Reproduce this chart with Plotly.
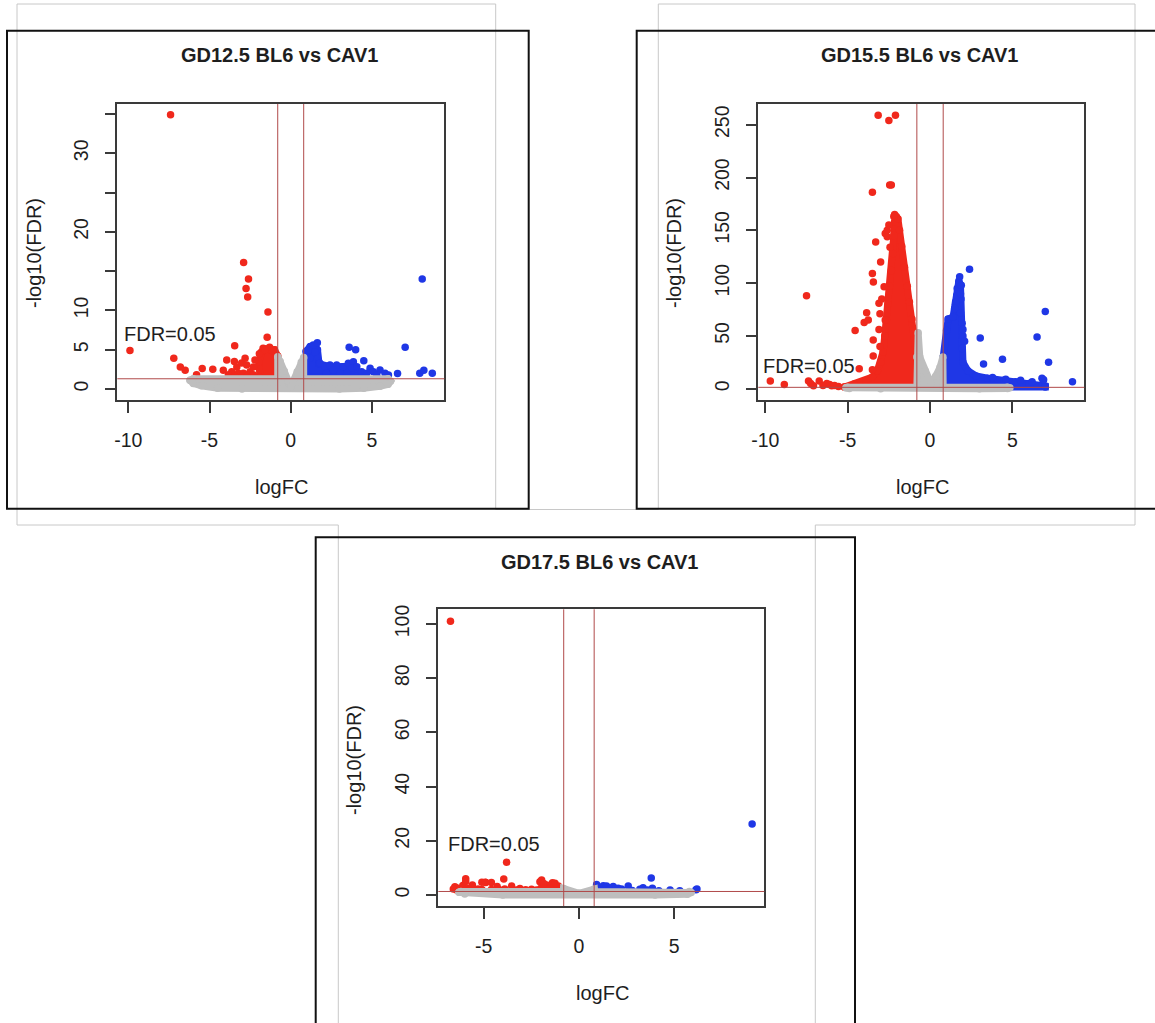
import numpy as np
import plotly.graph_objects as go

W, H = 1155, 1023
RED = "#f0281c"
BLUE = "#1f37e6"
GRAY = "#bebebe"
LINE_RED = "#b04a4a"
AX = "#3a3a3a"
TXT = "#1e1e1e"
FONT = "Liberation Sans, Arial, Helvetica, sans-serif"

TITLES = ["GD12.5 BL6 vs CAV1", "GD15.5 BL6 vs CAV1", "GD17.5 BL6 vs CAV1"]
X_LABEL = "logFC"
Y_LABEL = "-log10(FDR)"
FDR_TEXT = "FDR=0.05"
FC_CUT = 0.8
FDR_CUT = 0.05
FDR_Y = -np.log10(FDR_CUT)

# ---------------- Panel 1 : GD12.5 ----------------
p1_xticks = [-10, -5, 0, 5]
p1_yticks = [0, 5, 10, 15, 20, 25, 30, 35]
p1_yticktext = ["0", "5", "10", "", "20", "", "30", ""]
p1_red_x = [-7.4, -9.9, -2.9, -2.6, -2.75, -2.65, -1.4, -1.45, -3.45, -7.2, -6.8, -6.5,
            -5.8, -5.45, -4.8, -3.94, -3.47, -3.32, -3.02, -2.81, -2.71, -2.5, -2.3, -2.2,
            -3.63, -3.22, -2.91, -2.6, -2.3, -4.15, -3.84, -3.43, -2.71, -1.93, -1.7, -1.3,
            -1.1, -1.6]
p1_red_y = [34.9, 4.9, 16.1, 14.0, 12.8, 11.7, 9.8, 6.6, 5.5, 3.9, 2.8, 2.4,
            1.8, 2.6, 2.5, 3.7, 3.5, 2.8, 3.3, 3.9, 3.05, 2.2, 2.8, 3.7,
            2.2, 2.0, 2.0, 1.8, 1.8, 2.4, 1.8, 1.6, 1.6, 4.5, 5.2, 5.3,
            4.9, 5.0]
p1_red_core_x = [-1.9, -1.95, -1.8, -1.55, -1.25, -1.0, -0.8, -0.8]
p1_red_core_y = [1.5, 3.4, 4.7, 5.1, 5.0, 5.0, 4.2, 1.5]
p1_blue_x = [8.1, 7.05, 7.95, 8.2, 8.72, 6.58, 4.5, 3.6, 4.0, 1.09, 1.39, 1.64, 1.5, 1.19,
             1.8, 2.1, 2.42, 2.83, 3.24, 3.55, 3.86, 3.76, 4.07, 4.37, 4.89, 5.09, 5.5,
             5.81, 6.02, 4.68, 5.3, 2.2, 3.04, 3.45, 2.63]
p1_blue_y = [14.0, 5.3, 2.0, 2.4, 2.0, 1.96, 3.6, 5.3, 5.0, 4.96, 5.6, 5.9, 4.75, 3.9,
             3.27, 2.84, 3.05, 3.05, 2.84, 3.27, 3.48, 2.63, 2.84, 2.21, 2.63, 2.21, 2.42,
             2.0, 1.78, 2.0, 1.78, 2.0, 2.0, 2.0, 2.42]
p1_blue_core_x = [0.95, 0.95, 1.2, 1.5, 1.65, 1.75, 2.5, 3.5, 4.0, 4.3]
p1_blue_core_y = [1.5, 4.8, 5.4, 5.5, 5.0, 3.2, 2.8, 2.9, 2.6, 1.5]
p1_gray_x = [-6.2, -6.0, -0.8, -0.8, -0.65, -0.4, -0.15, 0.0, 0.15, 0.4, 0.65, 0.8, 0.8,
             6.0, 6.15, 6.0, 5.5, 4.5, 3.0, -3.0, -4.5, -5.5, -6.0]
p1_gray_y = [1.1, 1.3, 1.3, 4.1, 3.5, 2.3, 1.0, 0.3, 1.0, 2.2, 3.4, 4.0, 1.3,
             1.3, 1.0, 0.6, 0.35, 0.1, 0.0, 0.0, 0.1, 0.4, 0.7]

# ---------------- Panel 2 : GD15.5 ----------------
p2_xticks = [-10, -5, 0, 5]
p2_yticks = [0, 50, 100, 150, 200, 250]
p2_yticktext = ["0", "50", "100", "150", "200", "250"]
p2_red_x = [-3.15, -2.5, -2.1, -2.45, -2.35, -3.5, -7.5, -3.3, -2.72, -2.6, -2.43, -3.0,
            -3.5, -3.44, -3.1, -3.85, -4.0, -3.75, -4.55, -3.1, -3.45, -3.45, -4.3, -3.5,
            -9.7, -8.85, -7.38, -7.08, -6.73, -6.27, -5.97, -5.56, -7.25, -6.5, -6.1,
            -5.8, -2.79, -2.93, -2.72, -3.04, -3.04, -2.6, -2.5, -2.2, -2.15]
p2_red_y = [259, 254, 259, 193, 193, 186, 88, 139, 147, 144, 134, 120,
            109, 101, 81, 72, 62.6, 65, 55, 56, 46, 31, 19, 18,
            7.3, 4.0, 7.3, 2.9, 7.3, 5.0, 2.9, 2.0, 5.0, 3.0, 4.0,
            3.0, 96.6, 85, 65, 71, 40, 150, 155, 163, 165]
p2_red_core_x = [-5.2, -4.6, -3.9, -3.5, -3.2, -3.0, -2.85, -2.75, -2.65, -2.55, -2.45,
                 -2.35, -2.25, -2.2, -2.15, -2.05, -1.95, -1.85, -1.72, -1.55, -1.38,
                 -1.25, -1.1, -0.95, -0.85, -0.8, -0.8]
p2_red_core_y = [1.5, 4.5, 7.5, 11, 17, 25, 35, 50, 65, 80, 97,
                 112, 128, 145, 158, 163, 161, 150, 135, 115, 97,
                 82, 66, 50, 35, 20, 1.5]
p2_blue_x = [2.4, 1.8, 1.75, 1.7, 1.62, 1.55, 1.5, 1.9, 1.85, 3.05, 3.25, 4.4, 6.5, 7.0,
             7.2, 8.65, 6.8, 2.0, 2.1, 5.5, 6.2, 6.9, 3.8, 4.6]
p2_blue_y = [113, 106, 100, 94, 88, 82, 76, 98, 90, 48, 23.5, 28, 49, 73,
             25, 6.6, 9.9, 56, 45, 8.0, 6.5, 8.5, 10.5, 9.0]
p2_blue_core_x = [0.8, 0.8, 1.0, 1.1, 1.4, 1.55, 1.65, 1.75, 1.85, 1.88, 1.85, 1.95, 2.0,
                  1.95, 2.0, 2.3, 2.8, 3.5, 4.5, 5.2, 6.0, 6.8, 7.0, 7.0]
p2_blue_core_y = [1.5, 30, 55, 66, 68, 80, 95, 102, 98, 85, 72, 62, 50,
                  38, 25, 17, 12, 10, 8, 6.5, 5, 4, 2.5, 1.5]
p2_gray_x = [-5.1, -5.0, -0.8, -0.8, -0.72, -0.62, -0.3, 0.05, 0.35, 0.6, 0.78, 0.8,
             4.7, 4.85, 4.7, 3.0, -3.0, -4.9]
p2_gray_y = [1.0, 1.3, 1.3, 30, 53, 30, 17, 5, 12, 20, 30, 1.3,
             1.3, 1.0, 0.2, 0.0, 0.0, 0.2]

# ---------------- Panel 3 : GD17.5 ----------------
p3_xticks = [-5, 0, 5]
p3_yticks = [0, 20, 40, 60, 80, 100]
p3_yticktext = ["0", "20", "40", "60", "80", "100"]
p3_red_x = [-6.75, -3.8, -3.95, -5.95, -5.1, -4.92, -6.52, -6.43, -6.34, -6.6, -5.6, -4.9,
            -4.6, -4.3, -3.54, -3.1, -2.49, -2.23, -2.05, -1.96, -1.7, -1.39, -1.26, -1.08,
            -5.1, -4.2, -2.8, -1.6, -1.3, -5.8, -6.1, -5.3, -3.9, -3.3, -2.0, -1.85, -1.5,
            -1.0, -0.9, -4.6, -5.95]
p3_red_y = [101, 12.1, 5.9, 6.0, 4.7, 4.7, 3.07, 1.85, 2.46, 2.2, 3.7, 4.6,
            4.6, 3.1, 3.3, 2.4, 2.1, 1.85, 4.9, 5.5, 3.7, 4.5, 4.3, 3.3,
            2.0, 2.0, 1.9, 3.1, 3.7, 2.5, 3.5, 2.2, 2.2, 1.8, 2.5, 4.2, 2.4,
            2.0, 1.6, 2.0, 5.0]
p3_blue_x = [9.1, 3.8, 0.93, 1.28, 1.45, 1.8, 2.06, 2.24, 2.59, 3.2, 3.37, 3.86, 4.79,
             6.15, 6.2, 1.0, 1.6, 2.8, 3.6, 4.2, 5.3]
p3_blue_y = [26.2, 6.3, 3.9, 3.4, 3.3, 3.1, 2.5, 2.2, 3.3, 2.1, 2.7, 2.5, 1.85,
             1.9, 2.2, 2.0, 2.0, 1.7, 1.8, 1.6, 1.6]
p3_gray_x = [-6.3, -6.2, -0.8, -0.8, 0.0, 0.8, 0.8, 5.8, 5.9, 5.7, 4.0, -4.0, -6.0]
p3_gray_y = [1.0, 1.3, 1.3, 2.4, 0.6, 2.2, 1.3, 1.3, 0.9, 0.3, 0.0, 0.0, 0.4]

# ---------------- layout geometry (pixels) ----------------
panels = [
    dict(box=(117.3, 104, 444.3, 400), xr=[-10.68, 9.46], yr=[-1.40, 36.27],
         xt=p1_xticks, yt=p1_yticks, ytt=p1_yticktext,
         red=(p1_red_x, p1_red_y), redc=(p1_red_core_x, p1_red_core_y),
         blue=(p1_blue_x, p1_blue_y), bluec=(p1_blue_core_x, p1_blue_core_y),
         gray=(p1_gray_x, p1_gray_y),
         title=(280, 55), xlab=(281, 487), ylab=(34, 253), fdr=(-10.37, 6.96)),
    dict(box=(758.3, 104, 1084.3, 400), xr=[-10.43, 9.37], yr=[-10.7, 269.6],
         xt=p2_xticks, yt=p2_yticks, ytt=p2_yticktext,
         red=(p2_red_x, p2_red_y), redc=(p2_red_core_x, p2_red_core_y),
         blue=(p2_blue_x, p2_blue_y), bluec=(p2_blue_core_x, p2_blue_core_y),
         gray=(p2_gray_x, p2_gray_y),
         title=(920, 55), xlab=(922, 487), ylab=(674, 253), fdr=(-10.29, 21.5)),
    dict(box=(438.3, 609.3, 764.3, 906), xr=[-7.39, 9.74], yr=[-4.06, 105.4],
         xt=p3_xticks, yt=p3_yticks, ytt=p3_yticktext,
         red=(p3_red_x, p3_red_y), redc=None,
         blue=(p3_blue_x, p3_blue_y), bluec=None,
         gray=(p3_gray_x, p3_gray_y),
         title=(600, 562), xlab=(602, 993), ylab=(354, 760), fdr=(-6.98, 18.8)),
]


def px(x):
    return x / W


def py(y):
    return 1 - y / H


fig = go.Figure()
annotations = []
shapes = []
MS = 7.5


def poly(xs, ys, color, xa, ya):
    return go.Scatter(x=list(xs) + [xs[0]], y=list(ys) + [ys[0]], mode="lines+markers",
                      fill="toself", fillcolor=color,
                      line=dict(color=color, width=7),
                      marker=dict(size=MS, color=color),
                      xaxis=xa, yaxis=ya, hoverinfo="skip", showlegend=False)


def pts(xs, ys, color, xa, ya):
    return go.Scatter(x=xs, y=ys, mode="markers",
                      marker=dict(size=MS, color=color, line=dict(width=0)),
                      xaxis=xa, yaxis=ya, showlegend=False)


layout_axes = {}
for i, p in enumerate(panels):
    n = "" if i == 0 else str(i + 1)
    xa, ya = "x" + n, "y" + n
    if p["redc"]:
        fig.add_trace(poly(*p["redc"], RED, xa, ya))
    fig.add_trace(pts(*p["red"], RED, xa, ya))
    if p["bluec"]:
        fig.add_trace(poly(*p["bluec"], BLUE, xa, ya))
    fig.add_trace(pts(*p["blue"], BLUE, xa, ya))
    fig.add_trace(poly(*p["gray"], GRAY, xa, ya))

    x0, y0, x1, y1 = p["box"]
    common = dict(showline=True, mirror=True, linecolor=AX, linewidth=1.5,
                  ticks="outside", ticklen=11, tickwidth=1.5, tickcolor=AX,
                  tickfont=dict(size=19.5, color=TXT, family=FONT),
                  showgrid=False, zeroline=False, automargin=False)
    layout_axes["xaxis" + n] = dict(domain=[px(x0), px(x1)], range=p["xr"], anchor=ya,
                                    tickmode="array", tickvals=p["xt"],
                                    ticktext=[str(v) for v in p["xt"]],
                                    ticklabelstandoff=11, **common)
    layout_axes["yaxis" + n] = dict(domain=[py(y1), py(y0)], range=p["yr"], anchor=xa,
                                    tickmode="array", tickvals=p["yt"], ticktext=p["ytt"],
                                    tickangle=-90, ticklabelstandoff=9, **common)

    # threshold lines
    shapes.append(dict(type="line", xref=xa + " domain", yref=ya, x0=0, x1=1,
                       y0=FDR_Y, y1=FDR_Y, line=dict(color=LINE_RED, width=1), layer="above"))
    for v in (-FC_CUT, FC_CUT):
        shapes.append(dict(type="line", xref=xa, yref=ya + " domain", x0=v, x1=v,
                           y0=0, y1=1, line=dict(color=LINE_RED, width=1), layer="above"))

    annotations.append(dict(text="<b>%s</b>" % TITLES[i], x=px(p["title"][0]), y=py(p["title"][1]),
                            xref="paper", yref="paper", showarrow=False,
                            xanchor="center", yanchor="middle",
                            font=dict(size=20, color=TXT, family=FONT)))
    annotations.append(dict(text=X_LABEL, x=px(p["xlab"][0]), y=py(p["xlab"][1]),
                            xref="paper", yref="paper", showarrow=False,
                            xanchor="center", yanchor="middle",
                            font=dict(size=20, color=TXT, family=FONT)))
    annotations.append(dict(text=Y_LABEL, x=px(p["ylab"][0]), y=py(p["ylab"][1]),
                            xref="paper", yref="paper", showarrow=False, textangle=-90,
                            xanchor="center", yanchor="middle",
                            font=dict(size=20, color=TXT, family=FONT)))
    annotations.append(dict(text=FDR_TEXT, x=p["fdr"][0], y=p["fdr"][1], xref=xa, yref=ya,
                            showarrow=False, xanchor="left", yanchor="middle",
                            font=dict(size=20, color=TXT, family=FONT)))

# page frame lines (light gray) and panel borders (black)
GL = "#c8c8c8"
gray_segments = [
    (17, 4, 495.7, 4), (17, 4, 17, 525), (17, 525, 338.3, 525), (338.3, 525, 338.3, 1023),
    (495.7, 4, 495.7, 509.5), (495.7, 509.5, 658.3, 509.5), (658.3, 4, 658.3, 509.5),
    (658.3, 4, 1135, 4), (1135, 4, 1135, 525), (815.3, 525, 1135, 525),
    (815.3, 525, 815.3, 1023),
]
for (a, b, c, d) in gray_segments:
    shapes.append(dict(type="line", xref="paper", yref="paper", x0=px(a), y0=py(b),
                       x1=px(c), y1=py(d), line=dict(color=GL, width=1), layer="below"))
black_boxes = [(7, 30.7, 528.7, 508.7), (636.7, 30.7, 1160, 508.7), (315.7, 537.3, 855, 1030)]
for (a, b, c, d) in black_boxes:
    shapes.append(dict(type="rect", xref="paper", yref="paper", x0=px(a), y0=py(d),
                       x1=px(c), y1=py(b), line=dict(color="#111111", width=2),
                       fillcolor="rgba(0,0,0,0)", layer="above"))

fig.update_layout(width=W, height=H,
                  margin=dict(l=0, r=0, t=0, b=0, pad=0, autoexpand=False),
                  paper_bgcolor="white", plot_bgcolor="white",
                  showlegend=False, annotations=annotations, shapes=shapes,
                  font=dict(family=FONT, color=TXT), **layout_axes)

fig.write_html("out.html")
